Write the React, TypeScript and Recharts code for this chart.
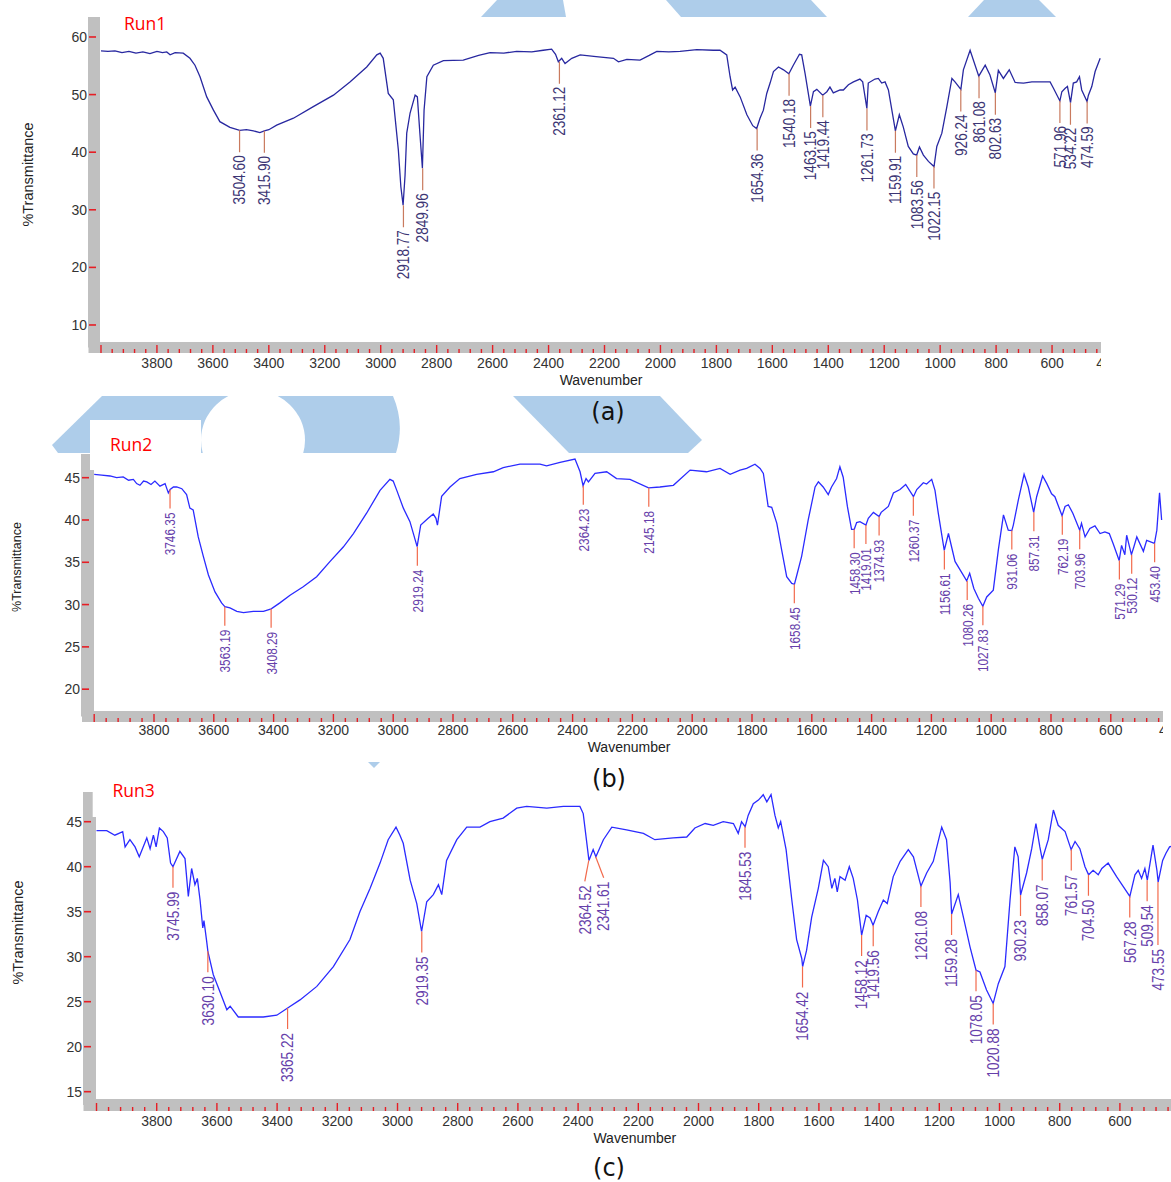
import React from 'react';
import { ComposedChart, Line, Scatter, XAxis, YAxis } from 'recharts';

// ---------------- DATA ----------------
const run1Wavenumber = [4000, 3975, 3950, 3925, 3900, 3875, 3850, 3825, 3800, 3780, 3765, 3753, 3735, 3706, 3682, 3664, 3646, 3622, 3598, 3575, 3539, 3504, 3480, 3455, 3432, 3416, 3400, 3372, 3312, 3241, 3169, 3110, 3050, 3014, 3002, 2991, 2973, 2955, 2937, 2928, 2920, 2913, 2907, 2895, 2877, 2869, 2860, 2851, 2845, 2835, 2812, 2776, 2705, 2650, 2609, 2560, 2514, 2460, 2419, 2389, 2375, 2365, 2353, 2341, 2317, 2287, 2230, 2168, 2150, 2120, 2073, 2040, 2013, 1970, 1930, 1870, 1811, 1787, 1763, 1751, 1742, 1733, 1715, 1691, 1670, 1656, 1644, 1632, 1620, 1608, 1596, 1578, 1560, 1541, 1525, 1503, 1495, 1483, 1464, 1453, 1441, 1420, 1405, 1394, 1382, 1358, 1346, 1328, 1310, 1287, 1277, 1262, 1257, 1233, 1221, 1209, 1197, 1185, 1160, 1146, 1132, 1114, 1096, 1084, 1074, 1060, 1042, 1022, 1012, 994, 976, 958, 947, 926, 917, 893, 862, 839, 822, 803, 792, 774, 753, 732, 702, 672, 643, 607, 595, 572, 565, 553, 545, 534, 524, 512, 502, 494, 475, 470, 458, 446, 428];
const run1Transmittance = [57.6, 57.5, 57.6, 57.3, 57.5, 57.2, 57.4, 57.1, 57.5, 57.3, 57.4, 56.9, 57.3, 57.2, 56.3, 55.1, 53.1, 49.6, 47.3, 45.3, 44.3, 43.8, 43.9, 43.7, 43.4, 43.7, 43.9, 44.7, 45.9, 47.9, 49.9, 52.2, 54.8, 56.9, 57.2, 56.3, 50.2, 49.1, 40.4, 34.0, 30.8, 36.0, 43.3, 46.8, 49.9, 49.6, 43.3, 37.2, 47.3, 53.1, 55.1, 55.9, 56.0, 56.8, 57.3, 57.2, 57.5, 57.4, 57.7, 57.9, 57.0, 55.7, 56.3, 55.4, 56.3, 56.9, 56.6, 56.3, 55.7, 56.1, 56.0, 56.8, 57.5, 57.4, 57.5, 57.8, 57.7, 57.7, 56.9, 53.1, 50.8, 51.3, 49.6, 46.5, 44.6, 44.1, 45.9, 47.3, 50.2, 52.0, 54.0, 54.8, 54.3, 53.6, 55.1, 57.0, 56.9, 53.7, 48.0, 50.5, 50.9, 49.9, 50.5, 51.3, 50.3, 50.8, 50.8, 51.7, 52.2, 52.7, 52.2, 47.6, 52.0, 52.7, 52.8, 52.0, 52.2, 50.8, 43.7, 46.5, 44.4, 41.0, 39.7, 39.5, 40.9, 39.5, 38.4, 37.5, 41.0, 43.3, 47.9, 52.8, 52.2, 50.9, 54.3, 57.7, 53.2, 55.1, 53.4, 50.3, 54.2, 52.8, 54.3, 52.1, 52.0, 52.2, 52.2, 52.2, 51.1, 48.9, 50.5, 51.1, 51.4, 48.6, 52.0, 52.2, 53.1, 50.8, 48.8, 49.9, 51.4, 54.0, 56.3];
const run1PeakWavenumber = [3504.60, 3415.90, 2918.77, 2849.96, 2361.12, 1654.36, 1540.18, 1463.15, 1419.44, 1261.73, 1159.91, 1083.56, 1022.15, 926.24, 861.08, 802.63, 571.96, 534.22, 474.59];
const run1PeakTransmittance = [43.8, 43.7, 30.8, 37.2, 55.7, 44.1, 53.6, 48.0, 49.9, 47.6, 43.7, 39.5, 37.5, 50.9, 53.2, 50.3, 48.9, 48.6, 48.8];

const run2Wavenumber = [4000, 3975, 3947, 3925, 3903, 3885, 3869, 3858, 3847, 3835, 3824, 3810, 3797, 3780, 3763, 3752, 3746, 3735, 3724, 3707, 3691, 3680, 3669, 3652, 3635, 3618, 3596, 3574, 3563, 3546, 3523, 3501, 3468, 3434, 3408, 3379, 3345, 3301, 3256, 3211, 3167, 3133, 3089, 3044, 3011, 3000, 2988, 2966, 2944, 2920, 2908, 2883, 2866, 2857, 2852, 2838, 2810, 2777, 2721, 2665, 2632, 2576, 2509, 2487, 2442, 2392, 2375, 2365, 2355, 2347, 2325, 2286, 2253, 2208, 2146, 2108, 2063, 2007, 1952, 1907, 1873, 1840, 1818, 1790, 1773, 1762, 1746, 1734, 1717, 1701, 1684, 1667, 1658, 1650, 1634, 1612, 1589, 1578, 1562, 1545, 1534, 1517, 1506, 1495, 1481, 1467, 1458, 1450, 1439, 1419, 1411, 1394, 1375, 1368, 1344, 1327, 1305, 1286, 1260, 1249, 1227, 1216, 1199, 1188, 1177, 1157, 1143, 1121, 1104, 1082, 1072, 1058, 1043, 1028, 1015, 993, 976, 959, 943, 931, 926, 909, 890, 876, 858, 848, 828, 814, 798, 787, 763, 753, 742, 727, 704, 698, 686, 670, 653, 636, 620, 605, 592, 572, 564, 553, 547, 531, 523, 513, 491, 480, 454, 446, 437, 430];
const run2Transmittance = [45.4, 45.3, 45.2, 45.0, 45.1, 44.7, 44.8, 44.3, 44.1, 44.6, 44.5, 44.2, 44.6, 44.0, 44.3, 43.2, 43.6, 43.9, 43.9, 43.7, 43.0, 41.4, 41.2, 38.0, 35.7, 33.5, 31.5, 30.2, 29.75, 29.6, 29.2, 29.05, 29.2, 29.2, 29.5, 30.2, 31.1, 32.1, 33.3, 35.1, 36.8, 38.4, 40.8, 43.5, 44.8, 44.6, 43.5, 41.4, 39.8, 36.85, 39.4, 40.2, 40.7, 40.2, 39.4, 42.8, 43.9, 44.9, 45.4, 45.7, 46.2, 46.6, 46.6, 46.4, 46.8, 47.2, 45.7, 44.05, 44.9, 44.5, 45.5, 45.7, 44.9, 44.8, 43.8, 43.9, 44.1, 45.9, 45.7, 46.1, 45.4, 45.9, 46.1, 46.6, 46.1, 45.5, 41.6, 41.5, 39.6, 36.5, 33.3, 32.5, 32.4, 33.5, 35.7, 40.0, 43.9, 44.5, 43.9, 43.0, 43.9, 44.9, 46.3, 45.05, 41.6, 38.9, 38.9, 39.7, 39.8, 39.4, 40.2, 40.9, 40.4, 40.9, 41.6, 43.2, 43.6, 44.2, 42.75, 43.6, 44.4, 44.25, 44.8, 43.5, 40.8, 36.4, 38.4, 35.1, 34.1, 32.8, 33.7, 31.9, 30.75, 29.8, 30.9, 31.7, 36.5, 40.6, 38.8, 38.75, 39.4, 42.4, 45.4, 43.9, 40.9, 42.75, 45.2, 44.3, 43.1, 42.75, 40.5, 41.6, 41.8, 40.8, 38.8, 39.6, 38.0, 39.0, 39.3, 38.4, 38.6, 38.4, 37.2, 35.2, 37.0, 35.9, 38.2, 35.9, 36.8, 38.0, 36.3, 37.6, 37.25, 38.8, 43.2, 40.0];
const run2PeakWavenumber = [3746.35, 3563.19, 3408.29, 2919.24, 2364.23, 2145.18, 1658.45, 1458.30, 1419.01, 1374.93, 1260.37, 1156.61, 1080.26, 1027.83, 931.06, 857.31, 762.19, 703.96, 571.29, 530.12, 453.40];
const run2PeakTransmittance = [43.6, 29.75, 29.5, 36.85, 44.05, 43.8, 32.4, 38.9, 39.4, 40.4, 42.75, 36.4, 32.8, 29.8, 38.75, 40.9, 40.5, 38.8, 35.2, 35.9, 37.25];

const run3Wavenumber = [4000, 3966, 3939, 3913, 3905, 3889, 3872, 3858, 3845, 3833, 3822, 3811, 3802, 3791, 3778, 3765, 3754, 3746, 3723, 3706, 3695, 3684, 3673, 3665, 3656, 3647, 3643, 3634, 3630, 3612, 3590, 3567, 3556, 3529, 3501, 3446, 3401, 3365, 3324, 3268, 3213, 3158, 3125, 3091, 3058, 3031, 3005, 2992, 2981, 2958, 2936, 2920, 2903, 2881, 2864, 2853, 2837, 2803, 2770, 2726, 2693, 2649, 2604, 2571, 2504, 2449, 2394, 2383, 2364, 2350, 2341, 2316, 2288, 2239, 2183, 2145, 2084, 2039, 2012, 1978, 1951, 1918, 1884, 1868, 1857, 1845, 1835, 1818, 1801, 1785, 1773, 1759, 1746, 1735, 1727, 1709, 1690, 1674, 1657, 1654, 1641, 1624, 1602, 1585, 1569, 1557, 1547, 1539, 1530, 1513, 1499, 1486, 1472, 1458, 1443, 1430, 1420, 1403, 1386, 1373, 1353, 1330, 1303, 1286, 1261, 1242, 1220, 1192, 1176, 1164, 1159, 1137, 1120, 1098, 1078, 1065, 1043, 1021, 1004, 982, 965, 949, 938, 930, 910, 893, 879, 866, 858, 838, 821, 805, 782, 762, 749, 733, 716, 704, 689, 672, 660, 639, 611, 567, 550, 539, 528, 517, 509, 490, 477, 473, 458, 447, 435, 425];
const run3Transmittance = [44.0, 44.0, 43.5, 43.9, 42.2, 43.0, 42.2, 41.1, 42.2, 43.2, 42.0, 43.5, 42.2, 44.3, 43.9, 43.2, 40.4, 40.0, 41.7, 40.9, 36.7, 39.8, 38.0, 38.7, 36.3, 33.2, 34.0, 31.7, 30.6, 28.0, 26.1, 24.1, 24.5, 23.3, 23.3, 23.3, 23.5, 24.3, 25.2, 26.7, 28.9, 31.9, 35.0, 37.6, 40.4, 43.0, 44.4, 43.5, 42.6, 38.5, 35.9, 32.8, 36.1, 36.9, 38.0, 36.9, 40.7, 43.0, 44.4, 44.4, 45.0, 45.4, 46.5, 46.7, 46.5, 46.7, 46.7, 45.9, 40.7, 41.9, 41.1, 43.0, 44.4, 44.1, 43.7, 43.0, 43.2, 43.3, 44.3, 44.8, 44.6, 45.0, 44.8, 43.7, 45.0, 44.45, 45.7, 47.0, 47.4, 48.0, 47.2, 48.0, 45.7, 44.3, 45.0, 41.9, 36.3, 31.9, 29.8, 28.9, 30.7, 34.4, 37.6, 40.7, 40.0, 37.6, 38.7, 37.2, 38.9, 38.5, 40.0, 38.7, 36.3, 32.4, 34.6, 34.3, 33.5, 35.0, 36.3, 35.9, 38.9, 40.6, 41.9, 41.1, 37.85, 39.3, 40.6, 44.4, 43.0, 38.2, 34.75, 36.9, 34.4, 31.1, 28.5, 28.3, 26.3, 24.8, 27.0, 28.9, 36.3, 42.2, 41.1, 36.85, 39.3, 42.0, 44.8, 42.2, 40.8, 43.0, 46.3, 44.6, 43.9, 41.9, 42.8, 42.0, 40.0, 39.1, 39.6, 39.1, 39.8, 40.4, 38.9, 36.7, 39.1, 39.6, 38.7, 39.8, 38.5, 42.4, 39.6, 38.3, 40.7, 41.5, 42.2, 42.3];
const run3PeakWavenumber = [3745.99, 3630.10, 3365.22, 2919.35, 2364.52, 2341.61, 1845.53, 1654.42, 1458.12, 1419.56, 1261.08, 1159.28, 1078.05, 1020.88, 930.23, 858.07, 761.57, 704.50, 567.28, 509.54, 473.55];
const run3PeakTransmittance = [40.0, 30.6, 24.3, 32.8, 40.7, 41.1, 44.45, 28.9, 32.4, 33.5, 37.85, 34.75, 28.5, 24.8, 36.85, 40.8, 41.9, 39.1, 36.7, 38.5, 38.3];

const run1YTicks = [10, 20, 30, 40, 50, 60];
const run2YTicks = [20, 25, 30, 35, 40, 45];
const run3YTicks = [15, 20, 25, 30, 35, 40, 45];
const xMajorStep = 200;
const xMinorStep = 40;
const xTicks: number[] = [];
for (let v = 4000; v >= 400; v -= xMinorStep) xTicks.push(v);

const zip = (w: number[], t: number[]) => w.map((wn, i) => ({ wn, t: t[i] }));

// ---------------- STYLE / LAYOUT ----------------
const FONT = "'Liberation Sans', Arial, Helvetica, sans-serif";
const RED = '#e61e25';
const GRAY = '#c0c0c0';
const BLUE = '#aecdea';

const panels = [
  {
    key: 'run1', top: 0, width: 1101, height: 400, marginTop: 17, marginRight: -7,
    yAxisWidth: 94, xAxisHeight: 52.5, xDomain: [400, 4025], yDomain: [6.09, 63.47],
    yTicks: run1YTicks, yBand: 12, xBand: 11, xLabelDy: 15,
    curve: '#2828a0', peakText: '#3c3574', peakLine: '#c97a5e',
    lineLen: 22, gap: 3, font: 16, sx: 0.85,
    yTitle: { x: 32.5, y: 174.5, size: 14.5 }, xTitleY: 385, plotRight: 1108, showLast: true,
    points: zip(run1Wavenumber, run1Transmittance),
    peaks: zip(run1PeakWavenumber, run1PeakTransmittance),
    nudges: {} as Record<string, { dx?: number; extra?: number }>,
  },
  {
    key: 'run2', top: 390, width: 1163, height: 380, marginTop: 64, marginRight: -7.6,
    yAxisWidth: 87.5, xAxisHeight: 53.5, xDomain: [400, 4022.4], yDomain: [16.77, 47.8],
    yTicks: run2YTicks, yBand: 13, xBand: 11, xLabelDy: 13,
    curve: '#2b2bff', peakText: '#6640aa', peakLine: '#f26a4c',
    lineLen: 19, gap: 4, font: 15, sx: 0.79,
    yTitle: { x: 21, y: 177, size: 12.5 }, xTitleY: 362, plotRight: 1170.6, showLast: true,
    points: zip(run2Wavenumber, run2Transmittance),
    peaks: zip(run2PeakWavenumber, run2PeakTransmittance),
    nudges: {} as Record<string, { dx?: number; extra?: number }>,
  },
  {
    key: 'run3', top: 760, width: 1171, height: 422, marginTop: 32, marginRight: -9.1,
    yAxisWidth: 89.5, xAxisHeight: 77, xDomain: [400, 4023.3], yDomain: [13.52, 48.3],
    yTicks: run3YTicks, yBand: 13, xBand: 12, xLabelDy: 15,
    curve: '#2b2bff', peakText: '#6640aa', peakLine: '#f26a4c',
    lineLen: 21, gap: 4, font: 16, sx: 0.85,
    yTitle: { x: 22.5, y: 172.5, size: 14.5 }, xTitleY: 383, plotRight: 1180.1, showLast: false,
    points: zip(run3Wavenumber, run3Transmittance),
    peaks: zip(run3PeakWavenumber, run3PeakTransmittance),
    nudges: { '2364.52': { dx: -4 }, '2341.61': { dx: 8 }, '473.55': { extra: 42 } } as Record<string, { dx?: number; extra?: number }>,
  },
];

type Panel = typeof panels[number];

const makeXTick = (p: Panel) => (props: any) => {
  const { x, y, payload } = props;
  const v = Number(payload.value);
  const major = v % xMajorStep === 0;
  const bottom = y + p.xBand / 2;
  const showLabel = major && v !== 4000 && (p.showLast || v !== 400);
  return (
    <g>
      <line x1={x} x2={x} y1={bottom - (major ? 8 : 4)} y2={bottom} stroke={RED} strokeWidth={1.4} />
      {showLabel && (
        <text x={x} y={bottom + p.xLabelDy} textAnchor="middle" fontSize={14} fill="#333" fontFamily={FONT}>
          {v}
        </text>
      )}
    </g>
  );
};

const makeYTick = (p: Panel) => (props: any) => {
  const { x, y, payload } = props;
  const left = x - p.yBand / 2;
  return (
    <g>
      <line x1={left + 1} x2={left + 8} y1={y} y2={y} stroke={RED} strokeWidth={1.6} />
      <text x={left - 1} y={y + 5} textAnchor="end" fontSize={14} fill="#333" fontFamily={FONT}>
        {payload.value}
      </text>
    </g>
  );
};

const makePeakShape = (p: Panel) => (props: any) => {
  const { cx, cy, payload } = props;
  if (cx == null || cy == null || !payload) return <g />;
  const label = Number(payload.wn).toFixed(2);
  const n = p.nudges[label] || {};
  const x2 = cx + (n.dx || 0);
  const y2 = cy + p.lineLen + (n.extra || 0);
  const capH = p.font * 0.72;
  return (
    <g>
      <line x1={cx} y1={cy} x2={x2} y2={y2} stroke={p.peakLine} strokeWidth={1.2} />
      <text
        transform={`translate(${x2 + capH / 2},${y2 + p.gap}) rotate(-90) scale(${p.sx},1)`}
        textAnchor="end"
        fontSize={p.font}
        fill={p.peakText}
        fontFamily={FONT}
      >
        {label}
      </text>
    </g>
  );
};

function Spectrum({ p }: { p: Panel }) {
  const xCenter = (p.yAxisWidth + p.plotRight) / 2;
  return (
    <div style={{ position: 'absolute', left: 0, top: p.top, width: p.width, height: p.height, overflow: 'hidden' }}>
      <ComposedChart width={p.width} height={p.height} margin={{ top: p.marginTop, right: p.marginRight, bottom: 0, left: 0 }}>
        <XAxis
          type="number"
          dataKey="wn"
          domain={p.xDomain}
          reversed
          allowDataOverflow
          ticks={xTicks}
          interval={0}
          tickSize={0}
          tickMargin={0}
          tickLine={false}
          height={p.xAxisHeight}
          axisLine={{ stroke: GRAY, strokeWidth: p.xBand, strokeLinecap: 'square' }}
          tick={makeXTick(p)}
          label={() => (
            <text x={xCenter} y={p.xTitleY} textAnchor="middle" fontSize={14} fill="#222" fontFamily={FONT}>
              Wavenumber
            </text>
          )}
        />
        <YAxis
          type="number"
          dataKey="t"
          domain={p.yDomain}
          allowDataOverflow
          ticks={p.yTicks}
          interval={0}
          tickSize={0}
          tickMargin={0}
          tickLine={false}
          width={p.yAxisWidth}
          axisLine={{ stroke: GRAY, strokeWidth: p.yBand }}
          tick={makeYTick(p)}
          label={() => (
            <text
              transform={`translate(${p.yTitle.x},${p.yTitle.y}) rotate(-90)`}
              textAnchor="middle"
              fontSize={p.yTitle.size}
              fill="#222"
              fontFamily={FONT}
            >
              %Transmittance
            </text>
          )}
        />
        <Line
          data={p.points}
          dataKey="t"
          type="linear"
          stroke={p.curve}
          strokeWidth={1.3}
          dot={false}
          activeDot={false}
          isAnimationActive={false}
        />
        <Scatter data={p.peaks} dataKey="t" shape={makePeakShape(p)} isAnimationActive={false} />
      </ComposedChart>
    </div>
  );
}

function Decorations() {
  const runStyle = { fontFamily: "'Open Sans', 'Noto Sans', sans-serif", fontSize: 17.5, fill: '#ff0000' };
  const capStyle = { fontFamily: "'DejaVu Sans', Verdana, sans-serif", fontSize: 24, fill: '#111' };
  return (
    <svg width={1171} height={1182} style={{ position: 'absolute', left: 0, top: 0, pointerEvents: 'none' }}>
      <defs>
        <clipPath id="bandClip">
          <rect x={0} y={396} width={1171} height={57} />
        </clipPath>
      </defs>
      <polygon points="497,0 563,0 566,17 481,17" fill={BLUE} />
      <polygon points="666,0 811,0 827,17 681,17" fill={BLUE} />
      <polygon points="984,0 1039,0 1056,17 968,17" fill={BLUE} />
      <path d="M102,396 L393,396 Q405,424 396,453 L58,453 L52,445 Z" fill={BLUE} />
      <ellipse cx={253} cy={440} rx={52} ry={50} fill="#fff" clipPath="url(#bandClip)" />
      <rect x={90} y={420} width={111} height={50} fill="#fff" />
      <polygon points="513,396 660,396 702,440 688,453 569,453" fill={BLUE} />
      <polygon points="368,762 380,762 374,768" fill={BLUE} />
      <rect x={92.7} y={789} width={4.5} height={28} fill="#fff" />
      <text x={124} y={30} {...runStyle}>Run1</text>
      <text x={110} y={451} {...runStyle}>Run2</text>
      <text x={112.5} y={797} {...runStyle}>Run3</text>
      <text x={608} y={420} textAnchor="middle" {...capStyle}>(a)</text>
      <text x={609} y={787} textAnchor="middle" {...capStyle}>(b)</text>
      <text x={609} y={1176} textAnchor="middle" {...capStyle}>(c)</text>
    </svg>
  );
}

export default function App() {
  return (
    <div style={{ position: 'absolute', left: 0, top: 0, width: 1171, height: 1182, background: '#fff', overflow: 'hidden' }}>
      {panels.map((p) => (
        <Spectrum key={p.key} p={p} />
      ))}
      <Decorations />
    </div>
  );
}
